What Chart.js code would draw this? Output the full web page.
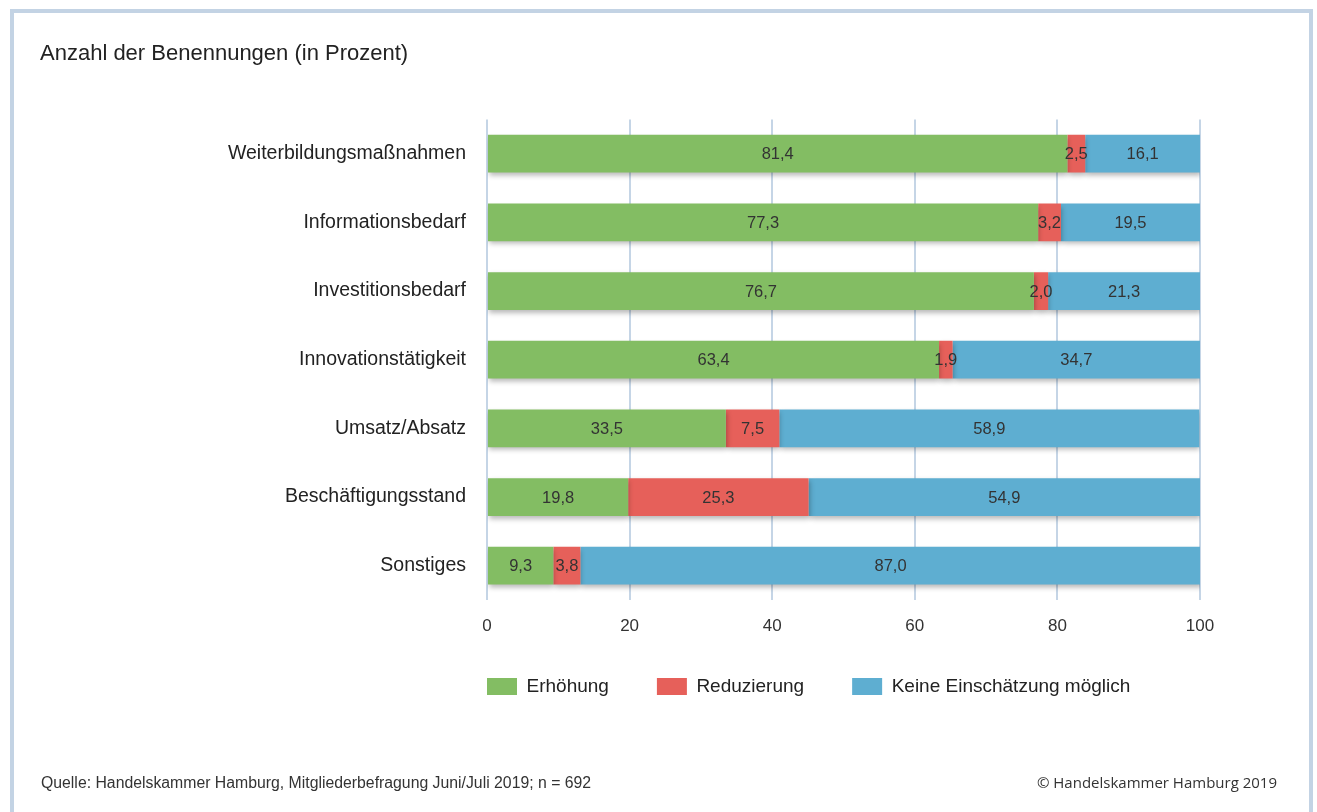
<!DOCTYPE html>
<html>
<head>
<meta charset="utf-8">
<script src="https://cdn.jsdelivr.net/npm/chart.js@4.4.1/dist/chart.umd.min.js"></script>
<style>
  body { margin: 0; background: #fff; }
  #wrap { position: relative; width: 1317px; height: 812px; overflow: hidden; }
  #frame { position: absolute; left: 10px; top: 9px; width: 1295px; height: 820px; border: 4px solid #c3d3e4; border-bottom: none; }
  canvas { position: absolute; left: 0; top: 0; }
  .foot { position: absolute; top: 774px; font-family: 'Liberation Sans', Arial, sans-serif; font-size: 15.8px; color: #333; }
  #quelle { left: 41px; }
  #copy { top: 772px; right: 40px; font-family: 'Open Sans', sans-serif; font-size: 15px; }
</style>
</head>
<body>
<div id="wrap">
  <div id="frame"></div>
  <canvas id="myChart" width="1317" height="812"></canvas>
  <div class="foot" id="quelle">Quelle: Handelskammer Hamburg, Mitgliederbefragung Juni/Juli 2019; n = 692</div>
  <div class="foot" id="copy">© Handelskammer Hamburg 2019</div>
</div>
<script>
const kategorien = ['Weiterbildungsmaßnahmen', 'Informationsbedarf', 'Investitionsbedarf', 'Innovationstätigkeit', 'Umsatz/Absatz', 'Beschäftigungsstand', 'Sonstiges']
const erhoehung = [81.4, 77.3, 76.7, 63.4, 33.5, 19.8, 9.3]
const reduzierung = [2.5, 3.2, 2.0, 1.9, 7.5, 25.3, 3.8]
const keineEinschaetzung = [16.1, 19.5, 21.3, 34.7, 58.9, 54.9, 87.0]
const xTicks = [0, 20, 40, 60, 80, 100]

const schrift = "'Liberation Sans', Arial, sans-serif"

// schatten unter den balken
const schattenPlugin = {
    id: 'schatten',
    beforeDatasetsDraw(chart) {
        const ctx = chart.ctx
        ctx.save()
        ctx.shadowColor = 'rgba(0,0,0,0.28)'
        ctx.shadowBlur = 5
        ctx.shadowOffsetX = 1
        ctx.shadowOffsetY = 3
    },
    afterDatasetsDraw(chart) {
        chart.ctx.restore()
    }
}

// werte mittig in die balken schreiben
const wertePlugin = {
    id: 'werte',
    afterDatasetsDraw(chart) {
        const ctx = chart.ctx
        ctx.save()
        ctx.font = '16.5px ' + schrift
        ctx.fillStyle = '#333'
        ctx.textAlign = 'center'
        ctx.textBaseline = 'middle'
        chart.data.datasets.forEach((ds, i) => {
            chart.getDatasetMeta(i).data.forEach((bar, j) => {
                const txt = ds.data[j].toFixed(1).replace('.', ',')
                ctx.fillText(txt, (bar.x + bar.base) / 2, bar.y + 1)
            })
        })
        ctx.restore()
    }
}

// legende links an der plotflaeche ausrichten
const legendePlugin = {
    id: 'legendePos',
    afterLayout(chart) {
        const lg = chart.legend
        lg.left = chart.chartArea.left - lg.options.labels.padding
        lg.right = chart.width
        lg.top = chart.chartArea.bottom + 29
    }
}

function construirChart() {
    const ctx = document.getElementById('myChart')
    const myChart = new Chart(ctx, {
        type: 'bar',
        data: {
            labels: kategorien,
            datasets: [{
                label: 'Erhöhung',
                data: erhoehung,
                backgroundColor: '#83bd63',
            },
            {
                label: 'Reduzierung',
                data: reduzierung,
                backgroundColor: '#e6605a',
            },
            {
                label: 'Keine Einschätzung möglich',
                data: keineEinschaetzung,
                backgroundColor: '#5eaed1',
            }],
        },
        options: {
            indexAxis: 'y',
            responsive: false,
            animation: false,
            devicePixelRatio: 1,
            categoryPercentage: 1,
            barPercentage: 0.55,
            layout: { padding: { left: 40, right: 117, top: 0, bottom: 95 } },
            scales: {
                x: {
                    stacked: true,
                    min: 0,
                    max: 100,
                    afterBuildTicks(scale) { scale.ticks = xTicks.map(v => ({ value: v })) },
                    afterFit(scale) { scale.height = 40 },
                    grid: { color: '#c5d5e6', lineWidth: 2, drawTicks: false },
                    border: { display: false },
                    ticks: { padding: 16, color: '#333', font: { family: schrift, size: 17 } }
                },
                y: {
                    stacked: true,
                    afterFit(scale) { scale.width = 447 },
                    grid: { display: false, drawTicks: false },
                    border: { display: false },
                    ticks: { padding: 21, color: '#222', font: { family: schrift, size: 19.5 } }
                }
            },
            plugins: {
                title: {
                    display: true,
                    text: 'Anzahl der Benennungen (in Prozent)',
                    align: 'start',
                    color: '#222',
                    font: { family: schrift, size: 22, weight: 'normal' },
                    padding: { top: 41, bottom: 52 }
                },
                legend: {
                    position: 'bottom',
                    align: 'start',
                    labels: {
                        boxWidth: 30,
                        boxHeight: 17,
                        padding: 48,
                        color: '#222',
                        font: { family: schrift, size: 19 }
                    }
                },
                tooltip: { enabled: false }
            }
        },
        plugins: [schattenPlugin, wertePlugin, legendePlugin]
    })
}

construirChart()
</script>
</body>
</html>
